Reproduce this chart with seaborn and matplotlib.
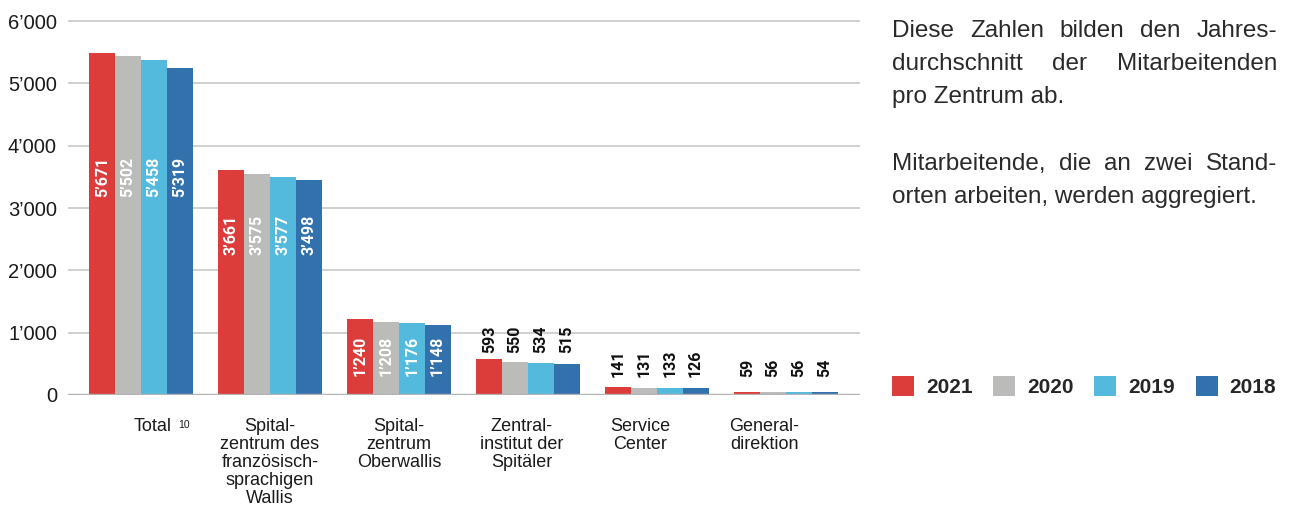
# -*- coding: utf-8 -*-
# Mitarbeitende pro Zentrum 2018-2021 (Jahresdurchschnitt)
import matplotlib
matplotlib.use("Agg")
import matplotlib.pyplot as plt
import pandas as pd
import seaborn as sns

#############################################################
# Données
#############################################################
zentren = ["Total", "SZFW", "SZO", "ZIS", "Service", "GD"]
zentren_labels = ["Total",
                  "Spital-\nzentrum des\nfranzösisch-\nsprachigen\nWallis",
                  "Spital-\nzentrum\nOberwallis",
                  "Zentral-\ninstitut der\nSpitäler",
                  "Service\nCenter",
                  "General-\ndirektion"]
jahre = ["2021", "2020", "2019", "2018"]

# hauteurs des barres telles que dessinées (le graphique d'origine
# ne suit pas exactement les étiquettes)
hoehe_2021 = [5490, 3612, 1220, 578, 128, 48]
hoehe_2020 = [5441, 3547, 1172, 530, 112, 48]
hoehe_2019 = [5377, 3499, 1156, 514, 112, 48]
hoehe_2018 = [5249, 3451, 1124, 498, 112, 48]

# valeurs affichées
wert_2021 = [5671, 3661, 1240, 593, 141, 59]
wert_2020 = [5502, 3575, 1208, 550, 131, 56]
wert_2019 = [5458, 3577, 1176, 534, 133, 56]
wert_2018 = [5319, 3498, 1148, 515, 126, 54]

farben = ["#dc3d3a", "#bbbbba", "#53badd", "#3371ad"]

# mise en page des étiquettes (bas du texte, en unités de données)
label_pos = [3178, 2247, 305, 666, 289, 289]
label_innen = [True, True, True, False, False, False]
label_shift = [0.09, 0.0, 0.0, -0.05, -0.13, -0.17]

hoehen = {"2021": hoehe_2021, "2020": hoehe_2020, "2019": hoehe_2019, "2018": hoehe_2018}
werte = {"2021": wert_2021, "2020": wert_2020, "2019": wert_2019, "2018": wert_2018}

rows = []
for j in jahre:
    for z, h in zip(zentren, hoehen[j]):
        rows.append({"Zentrum": z, "Jahr": j, "Mitarbeitende": h})
df = pd.DataFrame(rows)


def fmt(v):
    return f"{v:,}".replace(",", "\u2019")


#############################################################
# Graphique
#############################################################
sns.set_style("white")
plt.rcParams['font.family'] = ['Liberation Sans', 'DejaVu Sans']

W, H = 1290, 512
fig = plt.figure(figsize=(W / 100, H / 100), dpi=100)
ax = fig.add_axes([68 / W, 1 - 395 / H, (860 - 68) / W, 377 / H])

sns.barplot(data=df, x="Zentrum", y="Mitarbeitende", hue="Jahr",
            order=zentren, hue_order=jahre, palette=farben,
            width=0.8, saturation=1, errorbar=None, linewidth=0, ax=ax)

ax.set_xlim(-0.566, 5.574)
ax.set_ylim(0, 6050)
ax.set_yticks(range(0, 6001, 1000))
ax.set_yticklabels([fmt(v) for v in range(0, 6001, 1000)])
ax.tick_params(axis="y", length=0, pad=8, labelsize=14.5, labelcolor="#1a1a1a")
ax.set_xticks([])
ax.set_xlabel("")
ax.set_ylabel("")
ax.yaxis.grid(True, color="#c8c8c8", linewidth=1.2)
ax.set_axisbelow(True)
ax.axhline(0, color="#b3b3b3", linewidth=2.4, zorder=3)
sns.despine(ax=ax, left=True, bottom=True)

# étiquettes des valeurs
for cont, j in zip(ax.containers, jahre):
    for gi, bar in enumerate(cont):
        x = bar.get_x() + bar.get_width() / 2
        ax.text(x, label_pos[gi], fmt(werte[j][gi]), rotation=90,
                ha="center", va="bottom", fontsize=11.5, fontweight="bold",
                family=["Liberation Sans Narrow", "Roboto"],
                color="white" if label_innen[gi] else "#111111")

# noms des centres
tr = ax.get_xaxis_transform()
for i, lab in enumerate(zentren_labels):
    t = ax.text(i + label_shift[i], -0.062, lab, transform=tr, ha="center",
                va="top", fontsize=13, linespacing=1.07, color="#1a1a1a")
    if i == 0:
        ax.annotate("10", xy=(1, 1), xycoords=t, xytext=(5, -1),
                    textcoords="offset points", ha="left", va="top",
                    fontsize=7.5, color="#1a1a1a")

# légende
handles, labels = ax.get_legend_handles_labels()
ax.legend(handles, labels, ncol=4, loc="lower left",
          bbox_to_anchor=(892 / W, 1 - 397 / H), bbox_transform=fig.transFigure,
          frameon=False, borderpad=0, borderaxespad=0,
          handlelength=1.06, handleheight=1.06, handletextpad=0.58,
          columnspacing=0.98, prop={"weight": "bold", "size": 15})

# texte à droite, justifié
x0, x1 = 892, 1277
zeilen = [("Diese Zahlen bilden den Jahres-", 37, True),
          ("durchschnitt der Mitarbeitenden", 70, True),
          ("pro Zentrum ab.", 103, False),
          ("Mitarbeitende, die an zwei Stand-", 170, True),
          ("orten arbeiten, werden aggregiert.", 203, False)]
renderer = fig.canvas.get_renderer()
for txt, yb, justify in zeilen:
    if not justify:
        fig.text(x0 / W, 1 - yb / H, txt, fontsize=17.5, color="#2a2a2a",
                 va="baseline", ha="left")
        continue
    words = txt.split(" ")
    objs = [fig.text(0, 1 - yb / H, w, fontsize=17.5, color="#2a2a2a",
                     va="baseline", ha="left") for w in words]
    widths = [o.get_window_extent(renderer).width for o in objs]
    gap = (x1 - x0 - sum(widths)) / (len(words) - 1)
    xx = x0
    for o, wd in zip(objs, widths):
        o.set_x(xx / W)
        xx += wd + gap

fig.savefig("out.png", dpi=100)
